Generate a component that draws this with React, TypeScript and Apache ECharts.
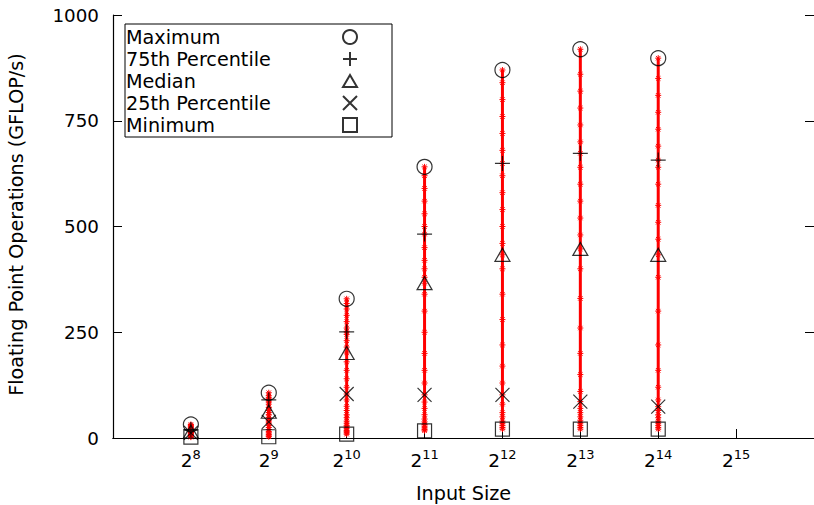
import React, { useEffect, useRef } from "react";
import * as echarts from "echarts";

// Input size exponents (2^n)
const exponents = [8, 9, 10, 11, 12, 13, 14];
const xTickExponents = [8, 9, 10, 11, 12, 13, 14, 15];

// Summary statistics (GFLOP/s)
const maximum = [32, 107, 329, 641, 870, 919, 898];
const p75 = [20, 90, 251, 482, 649, 673, 657];
const median = [15, 62, 201, 366, 433, 447, 433];
const p25 = [12, 38, 104, 102, 102, 86, 74];
const minimum = [2, 3, 9, 17, 21, 21, 21];

// Raw samples per input size (GFLOP/s)
const samples8 = [2, 4, 6, 8, 10, 12, 13, 14, 15, 16, 17, 18, 20, 22, 24, 26, 28, 30, 32];
const samples9 = [3, 5, 8, 12, 15, 20, 25, 30, 35, 38, 42, 48, 55, 60, 65, 72, 80, 85, 90, 92, 95, 100, 107];
const samples10 = [9, 12, 15, 18, 22, 26, 30, 35, 40, 48, 55, 65, 75, 90, 104, 120, 140, 160, 180, 201, 215, 230, 245, 251, 260, 275, 290, 305, 318, 329];
const samples11 = [17, 20, 24, 28, 32, 38, 45, 55, 70, 85, 102, 130, 160, 200, 250, 300, 340, 366, 380, 400, 420, 450, 482, 500, 530, 560, 590, 620, 641];
const samples12 = [21, 25, 30, 35, 40, 50, 60, 80, 102, 130, 170, 220, 280, 340, 400, 433, 460, 500, 540, 580, 620, 649, 680, 720, 760, 800, 840, 870];
const samples13 = [21, 25, 30, 35, 42, 50, 60, 70, 86, 110, 150, 200, 260, 330, 400, 447, 480, 520, 560, 600, 640, 673, 700, 740, 780, 820, 860, 919];
const samples14 = [21, 25, 30, 35, 40, 48, 55, 65, 74, 90, 120, 160, 220, 300, 380, 433, 470, 510, 550, 600, 640, 657, 690, 730, 770, 810, 850, 898];
const allSamples = [samples8, samples9, samples10, samples11, samples12, samples13, samples14];

const yTicks = [0, 250, 500, 750, 1000];

const FONT = "DejaVu Sans";

export default function App() {
  const ref = useRef<HTMLDivElement>(null);
  useEffect(() => {
    if (!ref.current) return;
    const chart = echarts.init(ref.current, undefined, { renderer: "svg" });

    const markerStyle = {
      color: "rgba(0,0,0,0)",
      borderColor: "#000",
      borderWidth: 1.2,
    };

    const pts = (arr: number[]) => exponents.map((e, i) => [e, arr[i]]);

    const sampleSeries = allSamples.map((s, i) => ({
      type: "line",
      name: "samples" + exponents[i],
      data: s.map((v) => [exponents[i], v]),
      symbol: "path://M0,3H6M3,0V6M0.8,0.8L5.2,5.2M5.2,0.8L0.8,5.2",
      symbolSize: 6,
      showSymbol: true,
      itemStyle: { color: "#ff0000", borderColor: "#ff0000", borderWidth: 1 },
      lineStyle: { color: "#ff0000", width: 3 },
      z: 2,
      silent: true,
    }));

    const markerSeries = [
      { name: "Maximum", symbol: "circle", size: 15, data: maximum },
      { name: "75th Percentile", symbol: "path://M0,7H14M7,0V14", size: 15, data: p75 },
      { name: "Median", symbol: "path://M7,0L14,12L0,12Z", size: [15, 13], data: median },
      { name: "25th Percentile", symbol: "path://M0,0L14,14M14,0L0,14", size: 14, data: p25 },
      { name: "Minimum", symbol: "rect", size: 14, data: minimum },
    ].map((m) => ({
      type: "scatter",
      name: m.name,
      symbol: m.symbol,
      symbolSize: m.size,
      data: pts(m.data),
      itemStyle: markerStyle,
      z: 4,
    }));

    chart.setOption({
      animation: false,
      backgroundColor: "#fff",
      textStyle: { fontFamily: FONT },
      grid: { left: 113, right: 0, top: 15, bottom: 67, containLabel: false, outerBoundsMode: "none" },
      legend: {
        data: markerSeries.map((s) => s.name),
        orient: "vertical",
        left: 125,
        top: 24,
        align: "right",
        itemWidth: 14,
        itemHeight: 14,
        itemGap: 0,
        padding: [2, 34, 1, 1],
        backgroundColor: "#fff",
        borderColor: "#000",
        borderWidth: 1,
        borderRadius: 0,
        selectedMode: false,
        formatter: (name: string) => "{t|" + name + "}",
        textStyle: {
          fontFamily: FONT,
          fontSize: 19.2,
          color: "#000",
          lineHeight: 22,
          rich: {
            t: { width: 212, align: "left", fontFamily: FONT, fontSize: 19.2, color: "#000", lineHeight: 22 },
          },
        },
      },
      xAxis: [
        {
          type: "value",
          min: 7,
          max: 16,
          interval: 1,
          position: "bottom",
          name: "Input Size",
          nameLocation: "middle",
          nameGap: 46,
          nameTextStyle: { fontFamily: FONT, fontSize: 19.2, color: "#000" },
          axisLine: { show: true, lineStyle: { color: "#000", width: 1.2 } },
          axisTick: { show: true, inside: true, length: 9, lineStyle: { color: "#000" } },
          splitLine: { show: false },
          axisLabel: {
            margin: 10,
            color: "#000",
            formatter: (v: number) =>
              xTickExponents.indexOf(v) >= 0 ? "{b|2}{s|" + v + "}" : "",
            rich: {
              b: { fontFamily: FONT, fontSize: 18.5, color: "#000", lineHeight: 24 },
              s: { fontFamily: FONT, fontSize: 13, color: "#000", verticalAlign: "top", lineHeight: 14 },
            },
          },
        },
        {
          type: "value",
          min: 7,
          max: 16,
          interval: 1,
          position: "top",
          axisLine: { show: true, lineStyle: { color: "#000", width: 1.2 } },
          axisTick: { show: false },
          axisLabel: { show: false },
          splitLine: { show: false },
        },
      ],
      yAxis: [
        {
          type: "value",
          min: yTicks[0],
          max: yTicks[yTicks.length - 1],
          interval: 250,
          name: "Floating Point Operations (GFLOP/s)",
          nameLocation: "middle",
          nameGap: 87,
          nameTextStyle: { fontFamily: FONT, fontSize: 19.2, color: "#000", padding: [0, 0, 0, 4] },
          axisLine: { show: true, lineStyle: { color: "#000", width: 1.2 } },
          axisTick: { show: true, inside: true, length: 9, lineStyle: { color: "#000" } },
          splitLine: { show: false },
          axisLabel: {
            fontFamily: FONT,
            fontSize: 18.3,
            color: "#000",
            margin: 14,
            formatter: (v: number) => String(v),
          },
        },
        {
          type: "value",
          min: yTicks[0],
          max: yTicks[yTicks.length - 1],
          interval: 250,
          position: "right",
          axisLine: { show: false },
          axisTick: { show: true, inside: true, length: 9, lineStyle: { color: "#000" } },
          axisLabel: { show: false },
          splitLine: { show: false },
        },
      ],
      series: [...sampleSeries, ...markerSeries],
    });

    return () => chart.dispose();
  }, []);

  return <div ref={ref} style={{ width: 814, height: 505, position: "absolute", left: 0, top: 0 }} />;
}
